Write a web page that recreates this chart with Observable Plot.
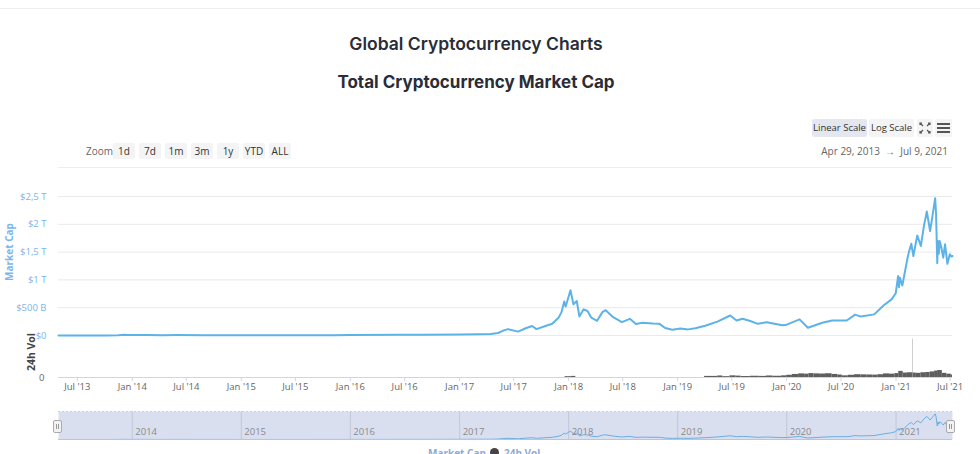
<!DOCTYPE html>
<html><head><meta charset="utf-8">
<script src="https://cdn.jsdelivr.net/npm/d3@7"></script>
<script src="https://cdn.jsdelivr.net/npm/@observablehq/plot@0.6"></script>
<style>
html,body{margin:0;padding:0;background:#fff;overflow:hidden}
#root{position:relative;width:980px;height:454px;overflow:hidden;font-family:"Open Sans",sans-serif}
.abs{position:absolute}
.t1,.t2{position:absolute;left:0;width:952px;text-align:center;font-family:Inter,sans-serif;color:#2a2c38}
.t1{top:33px;font-size:17.5px;font-weight:600}
.t2{top:72px;font-size:17px;font-weight:700}
.btn{position:absolute;height:16px;line-height:16px;font-size:10px;color:#333;background:#f4f4f4;text-align:center;border-radius:2px;white-space:nowrap}
.svgwrap{position:absolute;left:0}
</style></head><body><div id="root">
<div class="abs" style="left:0;top:8px;width:980px;height:1px;background:#eceef2"></div>
<div class="t1">Global Cryptocurrency Charts</div>
<div class="t2">Total Cryptocurrency Market Cap</div>
</div>
<script>
// ---- data (market cap in billions USD) ----
const capDates = ["2013-04-29","2013-07-01","2013-10-01","2013-11-15","2013-12-04","2013-12-20","2014-01-05","2014-02-20","2014-04-10","2014-06-01","2014-09-01","2014-12-01","2015-01-15","2015-06-01","2015-11-05","2016-01-01","2016-06-18","2016-09-01","2016-12-31","2017-03-01","2017-04-15","2017-05-10","2017-05-25","2017-06-12","2017-07-16","2017-08-10","2017-09-01","2017-09-15","2017-10-20","2017-11-07","2017-11-28","2017-12-08","2017-12-17","2017-12-22","2018-01-07","2018-01-17","2018-01-28","2018-02-06","2018-02-20","2018-03-05","2018-03-18","2018-04-06","2018-04-24","2018-05-05","2018-05-30","2018-06-28","2018-07-25","2018-08-14","2018-09-05","2018-10-10","2018-11-01","2018-11-20","2018-12-14","2019-01-10","2019-02-05","2019-03-01","2019-04-03","2019-05-14","2019-06-26","2019-07-17","2019-08-06","2019-09-01","2019-09-26","2019-10-26","2019-12-17","2020-01-01","2020-02-13","2020-03-12","2020-04-29","2020-06-01","2020-07-20","2020-08-17","2020-09-05","2020-10-20","2020-11-20","2020-12-17","2020-12-31","2021-01-08","2021-01-11","2021-01-14","2021-01-22","2021-02-08","2021-02-13","2021-02-21","2021-02-28","2021-03-13","2021-03-25","2021-04-05","2021-04-14","2021-04-25","2021-05-03","2021-05-12","2021-05-15","2021-05-19","2021-05-21","2021-05-24","2021-05-27","2021-06-01","2021-06-08","2021-06-14","2021-06-22","2021-06-30","2021-07-05","2021-07-09"];
const capValues = [1.6,1.2,1.6,5,14,8,11,8,5,8,6,5,3,3.7,6,7,13,12,18,22,27,45,85,115,70,130,170,115,180,210,320,420,610,520,815,560,620,340,470,440,320,265,420,455,330,240,300,205,230,215,210,135,105,125,110,130,175,250,360,270,300,260,210,240,185,195,290,140,230,270,270,375,340,380,540,650,760,1070,870,1040,900,1380,1500,1650,1430,1800,1610,1990,2230,1880,2150,2470,2180,1300,1700,1470,1700,1600,1400,1640,1290,1460,1420,1430];
// ---- 24h volume (billions USD) ----
const volDates = ["2017-12-20","2018-01-10","2018-01-25","2019-04-01","2019-05-15","2019-06-01","2019-06-25","2019-07-15","2019-08-01","2019-09-01","2019-10-01","2019-10-25","2019-11-15","2019-12-15","2020-01-01","2020-01-20","2020-02-10","2020-03-01","2020-03-15","2020-04-01","2020-04-20","2020-05-10","2020-06-01","2020-06-20","2020-07-05","2020-07-25","2020-08-15","2020-09-05","2020-09-25","2020-10-15","2020-11-01","2020-11-20","2020-12-10","2020-12-28","2021-01-10","2021-01-25","2021-02-08","2021-02-26","2021-02-27","2021-02-28","2021-03-10","2021-03-25","2021-04-10","2021-04-25","2021-05-10","2021-05-20","2021-06-05","2021-06-20","2021-07-05","2021-07-09"];
const volValues = [30,40,0,40,55,30,60,50,35,45,40,55,45,60,80,110,130,120,140,130,125,135,110,90,60,80,100,95,90,85,100,130,120,140,220,160,170,170,1380,160,150,170,180,200,230,250,150,120,90,0];
const yTickValues = [0,500,1000,1500,2000,2500];
const yTickLabels = ["$0","$500 B","$1 T","$1,5 T","$2 T","$2,5 T"];
const xTickDates = ["2013-07-01","2014-01-01","2014-07-01","2015-01-01","2015-07-01","2016-01-01","2016-07-01","2017-01-01","2017-07-01","2018-01-01","2018-07-01","2019-01-01","2019-07-01","2020-01-01","2020-07-01","2021-01-01","2021-07-01"];
const xTickLabels = ["Jul '13","Jan '14","Jul '14","Jan '15","Jul '15","Jan '16","Jul '16","Jan '17","Jul '17","Jan '18","Jul '18","Jan '19","Jul '19","Jan '20","Jul '20","Jan '21","Jul '21"];
const navYears = ["2014","2015","2016","2017","2018","2019","2020","2021"];
const zoomButtons = ["1d","7d","1m","3m","1y","YTD","ALL"];
const scaleButtons = ["Linear Scale","Log Scale"];
const rangeText = "Apr 29, 2013 \u00a0\u2192\u00a0 Jul 9, 2021";
const xDomain = [new Date("2013-04-29"), new Date("2021-07-09")];

const cap = capDates.map((d,i)=>({date:new Date(d), value:capValues[i]}));
const vol = volDates.map((d,i)=>({x1:new Date(d), x2:new Date(volDates[Math.min(i+1,volDates.length-1)]), value:volValues[i]}));
const xTicks = xTickDates.map(d=>new Date(d));
const xLabelMap = new Map(xTicks.map((d,i)=>[+d, xTickLabels[i]]));
const yLabelMap = new Map(yTickValues.map((v,i)=>[v, yTickLabels[i]]));
const navDates = navYears.map(y=>new Date(y+"-01-01"));

const root = document.getElementById("root");
function place(el, left, top){ const w=document.createElement("div"); w.className="svgwrap"; w.style.left=left+"px"; w.style.top=top+"px"; w.appendChild(el); root.appendChild(w); return w; }
const font = {fontFamily:"'Open Sans', sans-serif", fontSize:"9.5px", background:"transparent", overflow:"visible"};

// main market cap pane
const price = Plot.plot({
  width:980, height:160, marginLeft:58, marginRight:28, marginTop:16, marginBottom:5,
  style:font,
  x:{type:"utc", domain:xDomain, axis:null},
  y:{domain:[0,2500], axis:null},
  marks:[
    Plot.ruleY(yTickValues,{stroke:"#e9e9e9"}),
    Plot.axisY(yTickValues,{tickSize:0, tickPadding:12, label:null, tickFormat:v=>yLabelMap.get(v), fill:"#7cb5ec", fontSize:9.5}),
    Plot.lineY(cap,{x:"date", y:"value", stroke:"#5db3e8", strokeWidth:2})
  ]
});
place(price, 0, 180);

// volume pane + x axis
const volume = Plot.plot({
  width:980, height:68, marginLeft:58, marginRight:28, marginTop:8, marginBottom:21,
  style:font,
  x:{type:"utc", domain:xDomain, axis:null},
  y:{domain:[0,1400], axis:null},
  marks:[
    Plot.rectY(vol,{x1:"x1", x2:"x2", y:"value", fill:"#5e5e5e"}),
    Plot.ruleY([0],{stroke:"#ccd6eb"}),
    Plot.axisY([0],{tickSize:0, tickPadding:14, label:null, fill:"#666", fontSize:9.5}),
    Plot.axisX(xTicks,{tickSize:4, tickPadding:2, stroke:"#ccd6eb", label:null, tickFormat:d=>xLabelMap.get(+d), fill:"#666", fontSize:9.5})
  ]
});
place(volume, 0, 330);

// navigator
const nav = Plot.plot({
  width:980, height:35, marginLeft:58, marginRight:28, marginTop:6, marginBottom:1,
  style:font,
  x:{type:"utc", domain:xDomain, axis:null},
  y:{domain:[0,2700], axis:null},
  marks:[
    Plot.frame({fill:"#dadff0", stroke:null}),
    Plot.ruleX(navDates,{stroke:"#c2c7d6", strokeWidth:1}),
    Plot.text(navDates,{x:d=>d, frameAnchor:"bottom", dx:3, dy:-5, text:(d,i)=>navYears[i], textAnchor:"start", fill:"#8a8a8a", fontSize:9.5}),
    Plot.lineY(cap,{x:"date", y:"value", stroke:"#6aaee2", strokeWidth:1}),
    Plot.ruleY([2700],{stroke:"#cfcfcf", strokeDasharray:"2,2"}),
    Plot.ruleY([0],{stroke:"#b7c4e2"})
  ]
});
place(nav, 0, 405);

// HTML chrome
function add(html){ root.insertAdjacentHTML("beforeend", html); }
add(`<div class="abs" style="left:58px;top:167px;width:894px;height:1px;background:#ededed"></div>`);
add(`<div class="abs" style="left:86px;top:143px;height:16px;line-height:16px;font-size:10px;color:#666">Zoom</div>`);
zoomButtons.forEach((b,i)=>add(`<div class="btn" style="left:${113+i*26}px;top:143px;width:22px">${b}</div>`));
add(`<div class="btn" style="left:812px;top:119px;width:55px;height:18px;line-height:18px;background:#e4e7ef;font-size:9.5px">${scaleButtons[0]}</div>`);
add(`<div class="btn" style="left:869px;top:119px;width:45px;height:18px;line-height:18px;font-size:9.5px">${scaleButtons[1]}</div>`);
add(`<div class="btn" style="left:917px;top:119px;width:16px;height:18px"><svg width="16" height="18" style="position:absolute;left:0;top:0"><g stroke="#555" stroke-width="1.2" fill="none"><path d="M3 6 L3 4 L5 4 M3 4 L6 7"/><path d="M13 6 L13 4 L11 4 M13 4 L10 7"/><path d="M3 12 L3 14 L5 14 M3 14 L6 11"/><path d="M13 12 L13 14 L11 14 M13 14 L10 11"/></g></svg></div>`);
add(`<div class="btn" style="left:935px;top:119px;width:17px;height:18px"><svg width="17" height="18" style="position:absolute;left:0;top:0"><g fill="#555"><rect x="2" y="4" width="13" height="2"/><rect x="2" y="8" width="13" height="2"/><rect x="2" y="12" width="13" height="2"/></g></svg></div>`);
add(`<div class="abs" style="left:760px;width:188px;text-align:right;top:143px;height:16px;line-height:16px;font-size:10px;color:#666;white-space:pre">${rangeText}</div>`);
add(`<div class="abs" style="left:9px;top:252px;transform:translate(-50%,-50%) rotate(-90deg);font-size:10px;font-weight:700;color:#7cb5ec;white-space:nowrap">Market Cap</div>`);
add(`<div class="abs" style="left:31px;top:352px;transform:translate(-50%,-50%) rotate(-90deg);font-size:10.5px;font-weight:700;color:#444;white-space:nowrap">24h Vol</div>`);
// navigator handles
[57,950].forEach(x=>add(`<div class="abs" style="left:${x-4}px;top:420px;width:7px;height:11px;background:#f2f2f2;border:1px solid #aaa;border-radius:2px"><div style="position:absolute;left:2px;top:3px;width:1px;height:5px;background:#999"></div><div style="position:absolute;left:4px;top:3px;width:1px;height:5px;background:#999"></div></div>`));
// legend (partly below the bottom edge, as in the reference)
add(`<div class="abs" style="left:428px;top:446px;font-size:10px;font-weight:700;color:#8fa9d6;white-space:nowrap">Market Cap</div>`);
add(`<div class="abs" style="left:490px;top:448px;width:9px;height:9px;border-radius:50%;background:#444"></div>`);
add(`<div class="abs" style="left:504px;top:446px;font-size:10px;font-weight:700;color:#8fa9d6;white-space:nowrap">24h Vol</div>`);
</script>
</body></html>
